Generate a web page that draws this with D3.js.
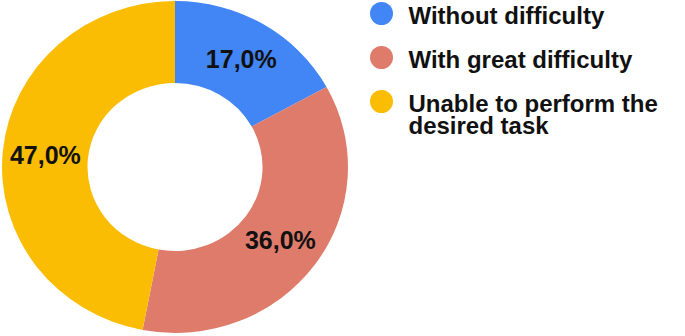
<!DOCTYPE html>
<html lang="en">
<head>
    <meta charset="UTF-8">
    <title>Task difficulty donut</title>
    <script src="https://d3js.org/d3.v7.min.js"></script>
    <style>
        body { margin: 0; background: #fff; }
        text { font-family: "Liberation Sans", Arial, sans-serif; font-weight: bold; fill: #111; }
    </style>
</head>
<body>
    <svg width="685" height="336"></svg>
    <script>
        // chart data
        const categories = ["Without difficulty", "With great difficulty", "Unable to perform the desired task"];
        const values = [17.0, 36.0, 47.0];
        const colors = ["#4285F4", "#DE7B6A", "#FBBC04"];
        // legend text, wrapped like the original
        const legendLines = [["Without difficulty"], ["With great difficulty"], ["Unable to perform the", "desired task"]];

        const svg = d3.select("svg");

        const cx = 175, cy = 167;
        const outerR = 166, innerR = 84;
        const xStretch = 1.042; // the picture is a bit wider than tall

        const pie = d3.pie().sort(null).value(d => d);
        const arc = d3.arc().innerRadius(innerR).outerRadius(outerR);
        const labelArc = d3.arc().innerRadius((innerR + outerR) / 2).outerRadius((innerR + outerR) / 2);

        const arcs = pie(values);

        svg.append("g")
            .attr("transform", `translate(${cx},${cy}) scale(${xStretch},1)`)
            .selectAll("path")
            .data(arcs)
            .enter().append("path")
            .attr("d", arc)
            .attr("fill", (d, i) => colors[i]);

        const fmt = v => v.toFixed(1).replace(".", ",") + "%";

        svg.append("g")
            .selectAll("text")
            .data(arcs)
            .enter().append("text")
            .attr("x", d => cx + labelArc.centroid(d)[0] * xStretch)
            .attr("y", d => cy + labelArc.centroid(d)[1])
            .attr("dy", "0.36em")
            .attr("text-anchor", "middle")
            .style("font-size", "25px")
            .text(d => fmt(d.data));

        // legend
        const legend = svg.append("g");
        const item = legend.selectAll("g")
            .data(categories)
            .enter().append("g")
            .attr("transform", (d, i) => `translate(381.5,${13.5 + i * 44})`);

        item.append("circle")
            .attr("r", 11.5)
            .attr("fill", (d, i) => colors[i]);

        item.append("text")
            .attr("x", 27)
            .attr("y", 10)
            .style("font-size", "24px")
            .selectAll("tspan")
            .data((d, i) => legendLines[i])
            .enter().append("tspan")
            .attr("x", 27)
            .attr("dy", (d, j) => j === 0 ? 0 : 22)
            .text(d => d);
    </script>
</body>
</html>
